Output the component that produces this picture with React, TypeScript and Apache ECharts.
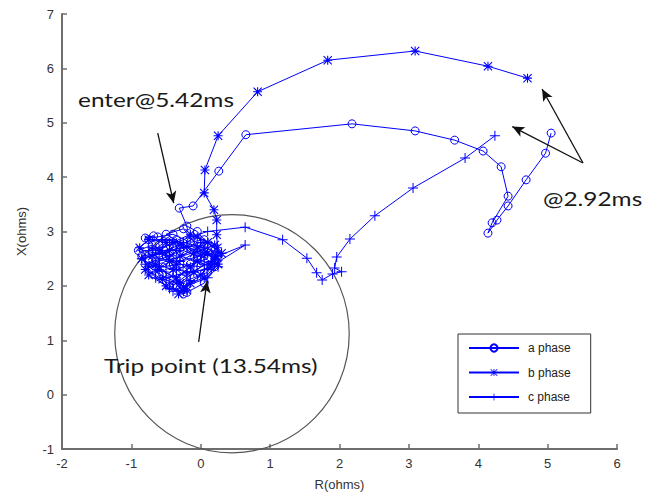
import React, { useEffect, useRef } from "react";
import * as echarts from "echarts";

// a phase (circle markers): R and X in ohms
const aR = [5.05, 4.97, 4.69, 4.43, 4.27, 4.14, 4.20, 4.43, 4.33, 4.07, 3.66, 3.09, 2.18, 0.65, 0.26, -0.11, -0.31,
  -0.20, -0.05, 0.05, -0.15, -0.40, -0.62, -0.80, -0.68, -0.55, -0.70, -0.50, -0.25, -0.05, 0.15, 0.20, 0.00, -0.30,
  -0.55, -0.75, -0.60, -0.40, -0.30, -0.20, -0.35, -0.10, 0.10, 0.25, 0.05, -0.30, -0.60, -0.85, -0.70, -0.45, -0.15, 0.10,
  -0.50, -0.25, 0.00, -0.40, -0.65, -0.90, -0.70, -0.45, -0.20, -0.45, -0.25, 0.05, 0.20, -0.05, -0.35, -0.75];
const aX = [4.81, 4.44, 3.95, 3.47, 3.21, 2.97, 3.16, 3.65, 4.19, 4.48, 4.68, 4.85, 4.98, 4.78, 4.11, 3.47, 3.43,
  3.10, 3.00, 2.85, 2.80, 2.95, 2.90, 2.88, 2.92, 2.78, 2.62, 2.55, 2.65, 2.55, 2.65, 2.45, 2.35, 2.40,
  2.35, 2.45, 2.20, 2.10, 1.95, 1.88, 2.02, 2.15, 2.25, 2.55, 2.75, 2.70, 2.60, 2.55, 2.30, 2.25, 2.40, 2.50,
  2.95, 3.05, 2.65, 2.50, 2.45, 2.65, 2.75, 2.60, 2.30, 2.00, 1.85, 2.05, 2.35, 2.50, 2.85, 2.85];

// b phase (star markers)
const bR = [4.71, 4.14, 3.09, 1.83, 0.82, 0.25, 0.06, 0.05, 0.19, 0.23, 0.23, 0.24,
  0.20, 0.05, -0.20, -0.45, -0.70, -0.88, -0.75, -0.50, -0.30, -0.05, 0.15, -0.10, -0.40, -0.65, -0.80, -0.55,
  -0.30, -0.20, -0.32, -0.15, 0.05, 0.25, 0.30, 0.10, -0.15, -0.40, -0.60, -0.35, -0.10, 0.20,
  -0.05, -0.30, -0.85, -0.60, -0.35, -0.25, 0.00, 0.22, -0.05, -0.45, -0.75, -0.50, -0.15, 0.10];
const bX = [5.82, 6.04, 6.32, 6.15, 5.57, 4.76, 4.13, 3.71, 3.40, 3.21, 2.94, 2.70,
  2.50, 2.60, 2.72, 2.65, 2.55, 2.70, 2.85, 2.80, 2.55, 2.45, 2.35, 2.25, 2.30, 2.40, 2.30, 2.12,
  2.05, 1.92, 1.85, 2.05, 2.15, 2.40, 2.60, 2.80, 2.95, 2.80, 2.65, 2.40, 2.60, 2.75,
  2.90, 2.75, 2.50, 2.30, 2.15, 1.98, 2.20, 2.55, 2.70, 2.45, 2.20, 2.00, 2.35, 2.60];

// c phase (plus markers)
const cR = [4.24, 3.81, 3.06, 2.51, 2.15, 1.96, 1.93, 2.03, 1.90, 1.75, 1.67, 1.53, 1.18, 0.64,
  0.10, -0.15, -0.45, -0.75, -0.60, -0.30, 0.00, 0.20, 0.64, 0.25, 0.09, -0.20, -0.50, -0.75, -0.85,
  -0.55, -0.35, -0.15, -0.25, -0.45, -0.20, 0.15, 0.30, 0.05, -0.25, -0.55, -0.70,
  -0.45, -0.80, -0.65, -0.40, -0.20, 0.10, 0.25, 0.00, -0.35, -0.60, -0.30, 0.05];
const cX = [4.76, 4.35, 3.80, 3.29, 2.86, 2.53, 2.33, 2.26, 2.22, 2.11, 2.24, 2.51, 2.85, 3.08,
  3.00, 2.90, 2.75, 2.65, 2.50, 2.45, 2.55, 2.40, 2.75, 2.55, 2.30, 2.25, 2.15, 2.35, 2.50,
  2.60, 2.30, 2.10, 1.90, 1.95, 2.20, 2.45, 2.60, 2.70, 2.80, 2.85, 2.70,
  2.55, 2.40, 2.15, 1.90, 2.00, 2.15, 2.35, 2.80, 2.65, 2.35, 2.05, 2.40];

const seriesNames = ["a phase", "b phase", "c phase"];
const xTicks = { min: -2, max: 6, interval: 1 };
const yTicks = { min: -1, max: 7, interval: 1 };

// annotation geometry (data coordinates)
const zoneCircle = { r: 0.45, x: 1.12, rr: 1.69, rx: 2.19 };
const arrows = [
  { from: [-0.62, 4.81], to: [-0.39, 3.52] },
  { from: [-0.03, 0.97], to: [0.09, 2.09] },
  { from: [5.51, 4.26], to: [4.92, 5.62] },
  { from: [5.51, 4.26], to: [4.49, 4.93] },
];
const notes = [
  { text: "enter@5.42ms", x: 78, y: 99 },
  { text: "@2.92ms", x: 543, y: 198 },
  { text: "Trip point (13.54ms)", x: 104, y: 365 },
];

const zip = (xs: number[], ys: number[]) => xs.map((v, i) => [v, ys[i]]);

const BLUE = "#0000ff";
const STAR =
  "path://M4.4,0h1.2v10h-1.2z M0,4.4h10v1.2h-10z M0.85,0L10,9.15L9.15,10L0,0.85z M9.15,0L10,0.85L0.85,10L0,9.15z M3.5,3.5h3v3h-3z";
const PLUS = "path://M4.5,0h1v10h-1z M0,4.5h10v1h-10z";

export default function App() {
  const ref = useRef<HTMLDivElement>(null);
  useEffect(() => {
    if (!ref.current) return;
    const chart = echarts.init(ref.current, null, { renderer: "svg" });
    const font = "Liberation Sans, Arial, sans-serif";
    const axisCommon = {
      axisLine: { show: true, onZero: false, lineStyle: { color: "#6e6e6e", width: 2 } },
      axisTick: { show: true, inside: true, length: 5, lineStyle: { color: "#6e6e6e", width: 1.5 } },
      axisLabel: { color: "#333", fontSize: 13, fontFamily: font },
      splitLine: { show: false },
      nameTextStyle: { color: "#333", fontSize: 13, fontFamily: font },
    };
    chart.setOption({
      animation: false,
      backgroundColor: "#fff",
      grid: { left: 62, right: 43, top: 14, bottom: 48 },
      xAxis: {
        type: "value",
        ...xTicks,
        name: "R(ohms)",
        nameLocation: "middle",
        nameGap: 29,
        ...axisCommon,
      },
      yAxis: {
        type: "value",
        ...yTicks,
        name: "X(ohms)",
        nameLocation: "middle",
        nameGap: 34,
        ...axisCommon,
      },
      legend: {
        data: seriesNames,
        orient: "vertical",
        left: 458,
        top: 334,
        itemWidth: 50,
        itemHeight: 9,
        itemGap: 12.5,
        padding: [8, 20, 10, 10],
        borderColor: "#333",
        borderWidth: 1,
        backgroundColor: "#fff",
        textStyle: { color: "#222", fontSize: 12, fontFamily: font, padding: [0, 0, 0, 4] },
      },
      series: [
        {
          name: "a phase",
          type: "line",
          data: zip(aR, aX),
          symbol: "circle",
          symbolSize: 8,
          showAllSymbol: true,
          lineStyle: { color: BLUE, width: 1 },
          itemStyle: { color: "rgba(255,255,255,0)", borderColor: BLUE, borderWidth: 1 },
          emphasis: { disabled: true },
        },
        {
          name: "b phase",
          type: "line",
          data: zip(bR, bX),
          symbol: STAR,
          symbolSize: 9,
          showAllSymbol: true,
          lineStyle: { color: BLUE, width: 1 },
          itemStyle: { color: BLUE, borderWidth: 0 },
          emphasis: { disabled: true },
        },
        {
          name: "c phase",
          type: "line",
          data: zip(cR, cX),
          symbol: PLUS,
          symbolSize: 10,
          showAllSymbol: true,
          lineStyle: { color: BLUE, width: 1 },
          itemStyle: { color: BLUE, borderWidth: 0 },
          emphasis: { disabled: true },
        },
        {
          name: "zone",
          type: "custom",
          data: [[zoneCircle.r, zoneCircle.x]],
          clip: false,
          silent: true,
          z: 1,
          renderItem: (params: any, api: any) => {
            const c = api.coord([api.value(0), api.value(1)]);
            const s = api.size([zoneCircle.rr, zoneCircle.rx]);
            return {
              type: "ellipse",
              shape: { cx: c[0], cy: c[1], rx: s[0], ry: s[1] },
              style: { fill: "none", stroke: "#555", lineWidth: 1.2 },
            };
          },
          markLine: {
            silent: true,
            symbol: ["none", "arrow"],
            symbolSize: [8, 12],
            label: { show: false },
            lineStyle: { color: "#111", width: 1.3, type: "solid" },
            emphasis: { disabled: true },
            data: arrows.map((a) => [{ coord: a.from }, { coord: a.to }]),
          },
        },
      ],
      graphic: notes.map((n) => ({
        type: "text",
        x: n.x,
        y: n.y,
        scaleX: 1.22,
        z: 100,
        style: {
          text: n.text,
          fill: "#1a1a1a",
          fontSize: 20,
          fontFamily: "Lato, 'Open Sans', sans-serif",
          align: "left",
          verticalAlign: "middle",
        },
      })),
    });
    return () => chart.dispose();
  }, []);
  return (
    <div
      ref={ref}
      style={{ position: "absolute", left: 0, top: 0, width: 660, height: 497, background: "#fff" }}
    />
  );
}
